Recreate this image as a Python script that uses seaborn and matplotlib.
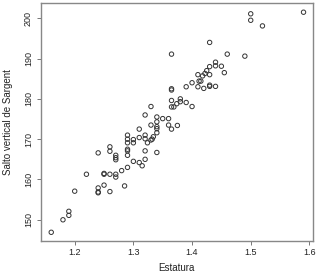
import matplotlib
matplotlib.use("Agg")
import matplotlib.pyplot as plt
import seaborn as sns
import pandas as pd

estatura = [1.16, 1.18, 1.19, 1.19, 1.20, 1.22, 1.24, 1.24, 1.24, 1.24,
            1.25, 1.25, 1.25, 1.26, 1.26, 1.26, 1.26, 1.27, 1.27, 1.27,
            1.27, 1.27, 1.28, 1.285, 1.29, 1.29, 1.29, 1.29, 1.29, 1.29,
            1.29, 1.30, 1.30, 1.30, 1.31, 1.31, 1.31, 1.315, 1.32, 1.32,
            1.32, 1.32, 1.32, 1.324, 1.33, 1.33, 1.33, 1.332, 1.334, 1.34,
            1.34, 1.34, 1.34, 1.34, 1.34, 1.35, 1.36, 1.36, 1.365, 1.365,
            1.365, 1.365, 1.365, 1.365, 1.369, 1.374, 1.375, 1.38, 1.38, 1.39,
            1.39, 1.40, 1.40, 1.41, 1.41, 1.412, 1.415, 1.418, 1.42, 1.422,
            1.425, 1.43, 1.43, 1.43, 1.43, 1.43, 1.44, 1.44, 1.44, 1.45,
            1.455, 1.46, 1.49, 1.50, 1.50, 1.52, 1.59]
salto = [146.9, 150.0, 152.1, 151.1, 157.1, 161.3, 166.6, 157.9, 156.7, 156.9,
         161.5, 161.3, 158.6, 168.1, 167.0, 161.3, 157.0, 166.0, 165.4, 164.9,
         161.3, 160.6, 162.2, 158.4, 171.0, 170.0, 169.1, 167.5, 167.1, 166.0,
         163.0, 169.9, 169.1, 164.5, 172.5, 170.4, 164.2, 163.4, 176.0, 171.0,
         170.1, 167.1, 165.0, 169.1, 178.1, 173.5, 169.8, 170.0, 170.6, 175.5,
         174.3, 173.1, 172.6, 171.6, 166.7, 175.1, 175.1, 173.5, 191.1, 182.5,
         182.2, 179.6, 178.0, 172.5, 178.0, 178.8, 173.4, 179.3, 180.0, 183.0,
         179.1, 184.0, 178.1, 186.0, 183.0, 184.4, 184.4, 185.7, 182.6, 186.3,
         187.0, 194.0, 188.0, 186.0, 183.4, 183.1, 189.1, 188.2, 183.1, 188.1,
         186.5, 191.1, 190.6, 201.1, 199.5, 198.1, 201.5]

x_ticks = [1.2, 1.3, 1.4, 1.5, 1.6]
x_tick_labels = ["1.2", "1.3", "1.4", "1.5", "1.6"]
y_ticks = [150, 160, 170, 180, 190, 200]
y_tick_labels = ["150", "160", "170", "180", "190", "200"]

df = pd.DataFrame({"Estatura": estatura, "Salto": salto})

sns.set_style("white")
plt.rcParams["font.family"] = ["Liberation Sans", "DejaVu Sans"]

fig = plt.figure(figsize=(3.28, 2.78), dpi=100)
ax = fig.add_axes([0.124, 0.134, 0.830, 0.854])

sns.scatterplot(data=df, x="Estatura", y="Salto", ax=ax,
                marker="o", s=10, facecolor="none", edgecolor="#333333",
                linewidth=0.7)

ax.set_xlim(1.142, 1.606)
ax.set_ylim(144.8, 203.7)
ax.set_xticks(x_ticks)
ax.set_xticklabels(x_tick_labels, fontsize=6.5, color="#222222")
ax.set_yticks(y_ticks)
ax.set_yticklabels(y_tick_labels, fontsize=6.5, color="#222222",
                   rotation=90, va="center")
ax.tick_params(axis="both", which="both", direction="out", length=3,
               width=0.7, color="#777777", bottom=True, left=True, pad=2.5)
for sp in ax.spines.values():
    sp.set_color("#888888")
    sp.set_linewidth(1.0)
ax.set_xlabel("Estatura", fontsize=7, color="#222222", labelpad=4)
ax.set_ylabel("Salto vertical de Sargent", fontsize=7, color="#222222",
              labelpad=8)

fig.savefig("out.png", dpi=100)
